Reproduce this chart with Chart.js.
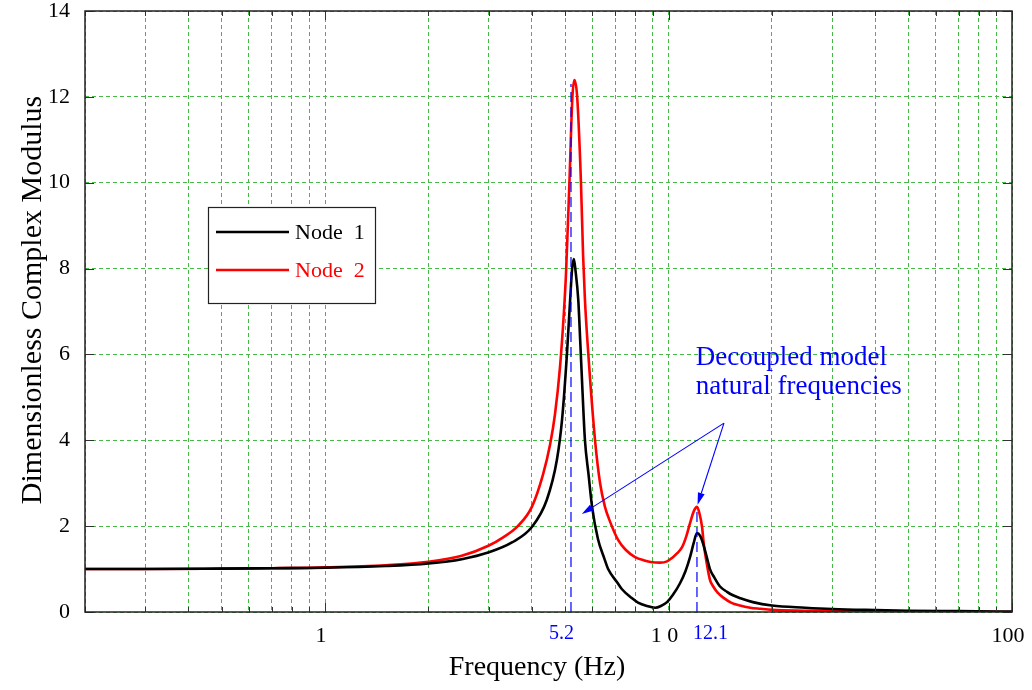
<!DOCTYPE html>
<html>
<head>
<meta charset="utf-8">
<script src="https://cdn.jsdelivr.net/npm/chart.js@4/dist/chart.umd.min.js"></script>
<style>
  html, body { margin: 0; padding: 0; background: #ffffff; }
  #wrap { width: 1032px; height: 690px; position: relative; }
</style>
</head>
<body>
<div id="wrap"><canvas id="c" width="1032" height="690"></canvas></div>
<script>
// Node 1 response (frequency in Hz, dimensionless modulus)
const node1Freq = [0.2, 0.3, 0.5, 0.7, 1.0, 1.5, 2.0, 2.5, 3.0, 3.5, 4.0, 4.42, 4.73, 4.9, 5.06, 5.17,
  5.24, 5.3, 5.36, 5.46, 5.53, 5.62, 5.71, 5.85, 5.99, 6.23, 6.5, 6.67, 7.1, 7.32, 7.8, 8.15, 8.66, 9.14,
  9.5, 9.9, 10.3, 10.8, 11.2, 11.55, 11.85, 12.1, 12.35, 12.6, 12.9, 13.2, 13.6, 14.1, 14.8, 15.4,
  16.2, 17.6, 20, 25, 30, 40, 50, 70, 100];
const node1Mod = [1.00, 1.00, 1.01, 1.02, 1.03, 1.07, 1.13, 1.23, 1.39, 1.62, 1.98, 2.61, 3.54, 4.5, 6.0, 7.27,
  8.0, 8.22, 7.95, 7.27, 6.34, 5.1, 4.0, 3.2, 2.45, 1.7, 1.25, 1.0, 0.68, 0.53, 0.33, 0.22, 0.14, 0.10,
  0.14, 0.23, 0.40, 0.67, 0.95, 1.28, 1.62, 1.84, 1.78, 1.6, 1.3, 1.0, 0.8, 0.6, 0.47, 0.39,
  0.32, 0.23, 0.15, 0.10, 0.07, 0.045, 0.03, 0.02, 0.01];

// Node 2 response
const node2Freq = [0.2, 0.3, 0.5, 0.7, 1.0, 1.5, 2.0, 2.5, 3.0, 3.3, 3.64, 4.0, 4.31, 4.52, 4.67, 4.83,
  4.96, 5.03, 5.14, 5.25, 5.32, 5.42, 5.56, 5.64, 5.71, 5.83, 6.11, 6.32, 6.53, 6.76, 7.13,
  7.5, 7.99, 8.5, 8.95, 9.45, 9.9, 10.24, 10.6, 10.95, 11.25, 11.55, 11.85, 12.1, 12.3, 12.52, 12.66,
  12.94, 13.2, 13.48, 13.9, 14.4, 15.2, 16.15, 17.3, 18.5, 20, 25, 30, 50, 100];
const node2Mod = [1.00, 1.00, 1.01, 1.02, 1.04, 1.09, 1.17, 1.31, 1.55, 1.74, 2.0, 2.45, 3.2, 3.9, 4.6, 5.7,
  7.0, 7.9, 9.9, 12.0, 12.39, 12.0, 9.99, 8.3, 7.27, 6.1, 4.0, 3.0, 2.45, 2.1, 1.68,
  1.45, 1.28, 1.2, 1.16, 1.15, 1.18, 1.26, 1.37, 1.51, 1.75, 2.07, 2.35, 2.45, 2.3, 1.98, 1.6,
  1.1, 0.75, 0.6, 0.45, 0.34, 0.22, 0.15, 0.1, 0.075, 0.05, 0.03, 0.02, 0.01, 0.0];

// Axis ticks
const xTickValues = [0.2, 0.3, 0.4, 0.5, 0.6, 0.7, 0.8, 0.9, 1, 2, 3, 4, 5, 6, 7, 8, 9,
  10, 20, 30, 40, 50, 60, 70, 80, 90, 100];
const xMajorTicks = [1, 10, 100];
const xTickLabels = ['1', '1 0', '100'];
const yTickValues = [0, 2, 4, 6, 8, 10, 12, 14];

// Decoupled model natural frequencies
const markerFreqs = [5.2, 12.1];
const markerLabels = ['5.2', '12.1'];
const markerTops = [12.3, 2.4];

// Callout
const noteLines = ['Decoupled model', 'natural frequencies'];
const notePos = { x: 12.0, y: 5.75 };
const arrowFrom = { x: 14.5, y: 4.4 };
const arrowTips = [{ x: 5.59, y: 2.28 }, { x: 12.15, y: 2.5 }];

const seriesNames = ['Node  1', 'Node  2'];
const seriesColors = ['#000000', '#ff0000'];

const SERIF = '"Liberation Serif", "Times New Roman", serif';
const GRID_GREEN = 'rgb(70,185,70)';
const BLUE = '#0000ff';

const toXY = (fs, vs) => fs.map((f, i) => ({ x: f, y: vs[i] }));

const datasets = [];
markerFreqs.forEach((f, i) => {
  datasets.push({
    label: 'marker' + i,
    data: [{ x: f, y: 0 }, { x: f, y: markerTops[i] }],
    borderColor: BLUE, borderWidth: 1.2, borderDash: [10, 5],
    pointRadius: 0, order: 0, tension: 0
  });
});
datasets.push({
  label: seriesNames[0], data: toXY(node1Freq, node1Mod),
  borderColor: seriesColors[0], borderWidth: 2.6, pointRadius: 0,
  cubicInterpolationMode: 'monotone', order: 1
});
datasets.push({
  label: seriesNames[1], data: toXY(node2Freq, node2Mod),
  borderColor: seriesColors[1], borderWidth: 2.6, pointRadius: 0,
  cubicInterpolationMode: 'monotone', order: 2
});

// Frame, inside tick marks, legend, callout and axis titles
const decorations = {
  id: 'decorations',
  afterDatasetsDraw(chart) {
    const { ctx, chartArea: a, scales: { x, y } } = chart;
    ctx.save();

    // inside tick marks
    ctx.strokeStyle = '#333';
    ctx.lineWidth = 1;
    ctx.beginPath();
    xTickValues.forEach(v => {
      const px = Math.round(x.getPixelForValue(v)) + 0.5;
      const len = xMajorTicks.includes(v) ? 9 : 5;
      ctx.moveTo(px, a.bottom); ctx.lineTo(px, a.bottom - len);
      ctx.moveTo(px, a.top); ctx.lineTo(px, a.top + len);
    });
    yTickValues.forEach(v => {
      const py = Math.round(y.getPixelForValue(v)) + 0.5;
      ctx.moveTo(a.left, py); ctx.lineTo(a.left + 9, py);
      ctx.moveTo(a.right, py); ctx.lineTo(a.right - 9, py);
    });
    ctx.stroke();

    // frame
    ctx.strokeStyle = '#222';
    ctx.lineWidth = 1.5;
    ctx.strokeRect(a.left, a.top, a.right - a.left, a.bottom - a.top);

    // legend
    const lx = a.left + 123, ly = a.top + 196, lw = 167, lh = 96;
    ctx.fillStyle = '#fff';
    ctx.fillRect(lx, ly, lw, lh);
    ctx.strokeStyle = '#222';
    ctx.lineWidth = 1.2;
    ctx.strokeRect(lx + 0.5, ly + 0.5, lw, lh);
    ctx.font = '22px ' + SERIF;
    ctx.textBaseline = 'middle';
    ctx.textAlign = 'left';
    seriesNames.forEach((name, i) => {
      const rowY = ly + 25 + i * 38;
      ctx.strokeStyle = seriesColors[i];
      ctx.lineWidth = 2.6;
      ctx.beginPath();
      ctx.moveTo(lx + 8, rowY); ctx.lineTo(lx + 81, rowY);
      ctx.stroke();
      ctx.fillStyle = seriesColors[i];
      ctx.fillText(name, lx + 87, rowY + 1);
    });

    // callout arrows
    const ox = x.getPixelForValue(arrowFrom.x), oy = y.getPixelForValue(arrowFrom.y);
    ctx.strokeStyle = BLUE;
    ctx.fillStyle = BLUE;
    ctx.lineWidth = 1.1;
    arrowTips.forEach(t => {
      const tx = x.getPixelForValue(t.x), ty = y.getPixelForValue(t.y);
      const ang = Math.atan2(ty - oy, tx - ox);
      const hl = 12, hw = 3.5;
      const bx = tx - hl * Math.cos(ang), by = ty - hl * Math.sin(ang);
      ctx.beginPath();
      ctx.moveTo(ox, oy); ctx.lineTo(bx, by);
      ctx.stroke();
      ctx.beginPath();
      ctx.moveTo(tx, ty);
      ctx.lineTo(bx + hw * Math.sin(ang), by - hw * Math.cos(ang));
      ctx.lineTo(bx - hw * Math.sin(ang), by + hw * Math.cos(ang));
      ctx.closePath();
      ctx.fill();
    });

    // callout text
    ctx.font = '27px ' + SERIF;
    ctx.textBaseline = 'alphabetic';
    ctx.textAlign = 'left';
    const nx = x.getPixelForValue(notePos.x), ny = y.getPixelForValue(notePos.y);
    noteLines.forEach((t, i) => ctx.fillText(t, nx, ny + i * 29));

    // marker frequency labels under the axis
    ctx.font = '20px ' + SERIF;
    ctx.textBaseline = 'middle';
    markerFreqs.forEach((f, i) => {
      const px = x.getPixelForValue(f);
      if (i === 0) { ctx.textAlign = 'right'; ctx.fillText(markerLabels[i], px + 3, a.bottom + 22); }
      else { ctx.textAlign = 'left'; ctx.fillText(markerLabels[i], px - 4, a.bottom + 22); }
    });

    // axis titles
    ctx.fillStyle = '#000';
    ctx.textAlign = 'center';
    ctx.textBaseline = 'middle';
    ctx.font = '28px ' + SERIF;
    ctx.fillText('Frequency (Hz)', 537, a.bottom + 56);
    ctx.save();
    ctx.translate(33, 300);
    ctx.rotate(-Math.PI / 2);
    ctx.font = '30px ' + SERIF;
    ctx.fillText('Dimensionless Complex Modulus', 0, 0);
    ctx.restore();

    ctx.restore();
  }
};

// fixed axis box sizes, no extra room for overhanging labels
const fitX = s => { s.height = 78; s.paddingLeft = 0; s.paddingRight = 0; s.paddingTop = 0; s.paddingBottom = 0; };
const fitY = s => { s.width = 85; s.paddingLeft = 0; s.paddingRight = 0; s.paddingTop = 0; s.paddingBottom = 0; };

new Chart(document.getElementById('c'), {
  type: 'line',
  data: { datasets },
  options: {
    responsive: false,
    animation: false,
    devicePixelRatio: 1,
    layout: { padding: { top: 11, right: 20, left: 0, bottom: 0 } },
    plugins: { legend: { display: false }, tooltip: { enabled: false } },
    scales: {
      x: {
        type: 'logarithmic', min: 0.2, max: 100, position: 'bottom',
        afterBuildTicks: s => { s.ticks = xTickValues.map(v => ({ value: v })); },
        ticks: {
          autoSkip: false, maxRotation: 0, padding: 13, labelOffset: -4, color: '#000',
          font: { family: SERIF, size: 22, lineHeight: 1 },
          callback: v => { const k = xMajorTicks.indexOf(v); return k >= 0 ? xTickLabels[k] : ''; }
        },
        grid: { color: GRID_GREEN, lineWidth: 1, drawTicks: false },
        border: { display: false, dash: [4, 3] },
        afterFit: fitX
      },
      y: {
        type: 'linear', min: 0, max: 14,
        afterBuildTicks: s => { s.ticks = yTickValues.map(v => ({ value: v })); },
        ticks: { padding: 15, color: '#000', font: { family: SERIF, size: 22, lineHeight: 1 } },
        grid: { color: GRID_GREEN, lineWidth: 1, drawTicks: false },
        border: { display: false, dash: [4, 3] },
        afterFit: fitY
      }
    }
  },
  plugins: [decorations]
});
</script>
</body>
</html>
